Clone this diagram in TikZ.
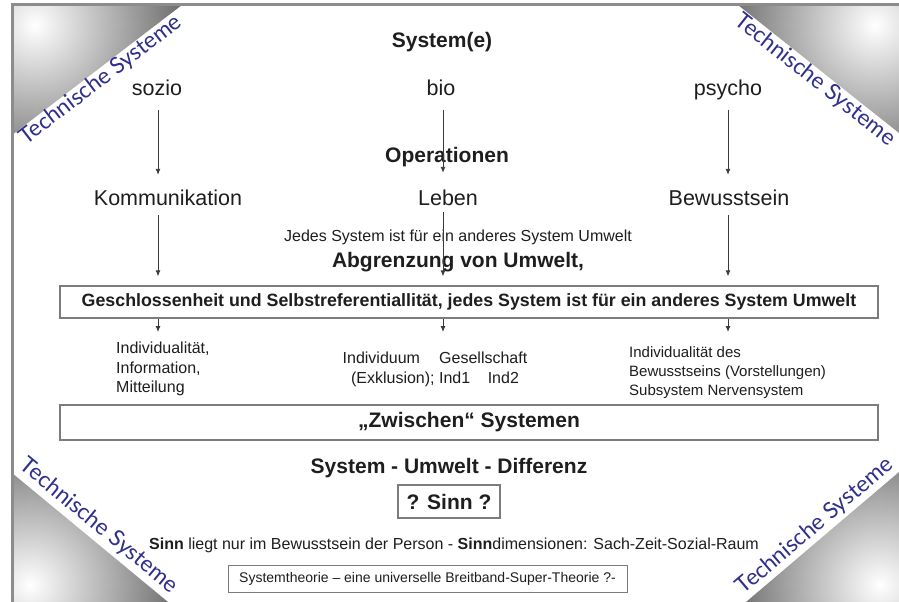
\documentclass[tikz,border=0pt]{standalone}
\usepackage{fontspec}
\setmainfont{Liberation Sans}
\newfontfamily\cornerfont{Lato}
\usetikzlibrary{arrows.meta}
\definecolor{txt}{HTML}{1E1E1E}
\definecolor{framec}{HTML}{8C8C8C}
\definecolor{navyc}{HTML}{2F2F8E}
\definecolor{boxline}{HTML}{7C7C7C}
\definecolor{arrowc}{HTML}{3A3A3A}
\definecolor{shadedark}{HTML}{6A6A6A}
\tikzset{
  lbl/.style={inner sep=0pt, text=txt, font=\fontsize{21.5}{26}\selectfont, text height=16pt, text depth=5pt},
  hd/.style={inner sep=0pt, text=txt, font=\fontsize{21}{25}\selectfont\bfseries, text height=15pt, text depth=4.5pt},
  sm/.style={inner sep=0pt, text=txt, font=\fontsize{16}{19.5}\selectfont},
  bigbox/.style={draw=boxline, line width=1.3pt, fill=white, inner sep=0pt, text=txt},
  arr/.style={draw=arrowc, line width=0.9pt, -{Latex[length=6pt,width=5pt]}},
  corner/.style={inner sep=0pt, text=navyc, font=\cornerfont\fontsize{22.5}{26}\selectfont},
}
\begin{document}
\begin{tikzpicture}[x=1pt,y=-1pt]
\useasboundingbox (0,0) rectangle (899,602);
\fill[white] (0,0) rectangle (899,602);

% corner shadings
\begin{scope}
  \clip (12,5) -- (182,5) -- (12,135) -- cycle;
  \shade[inner color=white, outer color=shadedark] (35,25) circle (150);
\end{scope}
\begin{scope}
  \clip (738,5) -- (899,5) -- (899,133) -- cycle;
  \shade[inner color=white, outer color=shadedark] (875,25) circle (150);
\end{scope}
\begin{scope}
  \clip (12,473) -- (12,602) -- (168,602) -- cycle;
  \shade[inner color=white, outer color=shadedark] (30,585) circle (150);
\end{scope}
\begin{scope}
  \clip (899,472) -- (899,602) -- (746,602) -- cycle;
  \shade[inner color=white, outer color=shadedark] (880,585) circle (150);
\end{scope}

% frame
\draw[framec, line width=3pt] (12,602) -- (12,5) -- (899,5);

% corner texts
\node[corner, rotate=37.5] (tl) at (101,80) {Technische Systeme};
\node[corner, rotate=-38.5] (tr) at (815,80) {Technische Systeme};
\node[corner, rotate=-39.6] (bl) at (99,526) {Technische Systeme};
\node[corner, rotate=40.4] (br) at (815,526) {Technische Systeme};

% column positions
\coordinate (cL) at (158,0);
\coordinate (cM) at (443,0);
\coordinate (cR) at (728,0);

% top texts
\node[hd] (sys) at (442,42) {System(e)};
\node[lbl] (sozio) at (157,89.5) {sozio};
\node[lbl] (bio) at (441,89.5) {bio};
\node[lbl] (psycho) at (728,89.5) {psycho};
\node[hd] (oper) at (447,157) {Operationen};
\node[lbl] (komm) at (168,199.5) {Kommunikation};
\node[lbl] (leben) at (448,199.5) {Leben};
\node[lbl] (bew) at (729,199.5) {Bewusstsein};
\node[sm] (jedes) at (458,237) {Jedes System ist für ein anderes System Umwelt};
\node[hd] (abgr) at (458,262) {Abgrenzung von Umwelt,};

% main box
\node[bigbox, minimum width=818pt, minimum height=32pt, font=\fontsize{17.8}{21}\selectfont\bfseries] (geschl) at (469,302)
  {Geschlossenheit und Selbstreferentiallität, jedes System ist für ein anderes System Umwelt};

% three text blocks
\node[sm, align=left, anchor=north west] (indl) at (116,342) {Individualität,\\Information,\\Mitteilung};
\node[sm, align=center, anchor=north] (indm) at (435,352) {Individuum\hspace{1.2em}Gesellschaft\\(Exklusion); Ind1\hspace{1.1em}Ind2};
\node[sm, align=left, anchor=north west, font=\fontsize{15}{19}\selectfont] (indr) at (629,346) {Individualität des\\Bewusstseins (Vorstellungen)\\Subsystem Nervensystem};

% Zwischen box
\node[bigbox, minimum width=818pt, minimum height=35pt, font=\fontsize{21}{25}\selectfont\bfseries] (zw) at (469,422.5)
  {„Zwischen“ Systemen};

\node[hd] (sud) at (449,468) {System - Umwelt - Differenz};
\node[bigbox, minimum width=102pt, minimum height=33pt, font=\fontsize{21}{25}\selectfont\bfseries] (sinn) at (449,501.5) {? Sinn ?};
\node[sm] (sinntxt) at (454,545) {\textbf{Sinn} liegt nur im Bewusstsein der Person - \textbf{Sinn}dimensionen: Sach-Zeit-Sozial-Raum};
\node[bigbox, line width=1pt, minimum width=399pt, minimum height=27pt, font=\fontsize{14}{17}\selectfont] (theo) at (427.5,578.5)
  {Systemtheorie – eine universelle Breitband-Super-Theorie ?-};

% arrows
\draw[arr, shorten <=10pt, shorten >=14pt] (cL |- sozio.south) -- (cL |- komm.north);
\draw[arr, shorten <=10pt, shorten >=16pt] (cM |- bio.south) -- (cM |- leben.north);
\draw[arr, shorten <=10pt, shorten >=14pt] (cR |- psycho.south) -- (cR |- bew.north);
\draw[arr, shorten <=5pt, shorten >=9pt] (cL |- komm.south) -- (cL |- geschl.north);
\draw[arr, shorten <=2pt, shorten >=9pt] (cM |- leben.south) -- (cM |- geschl.north);
\draw[arr, shorten <=5pt, shorten >=9pt] (cR |- bew.south) -- (cR |- geschl.north);
\draw[arr, shorten >=10pt] (cL |- geschl.south) -- (cL |- indl.north);
\draw[arr, shorten >=20pt] (cM |- geschl.south) -- (cM |- indm.north);
\draw[arr, shorten >=14pt] (cR |- geschl.south) -- (cR |- indr.north);
\end{tikzpicture}
\end{document}
